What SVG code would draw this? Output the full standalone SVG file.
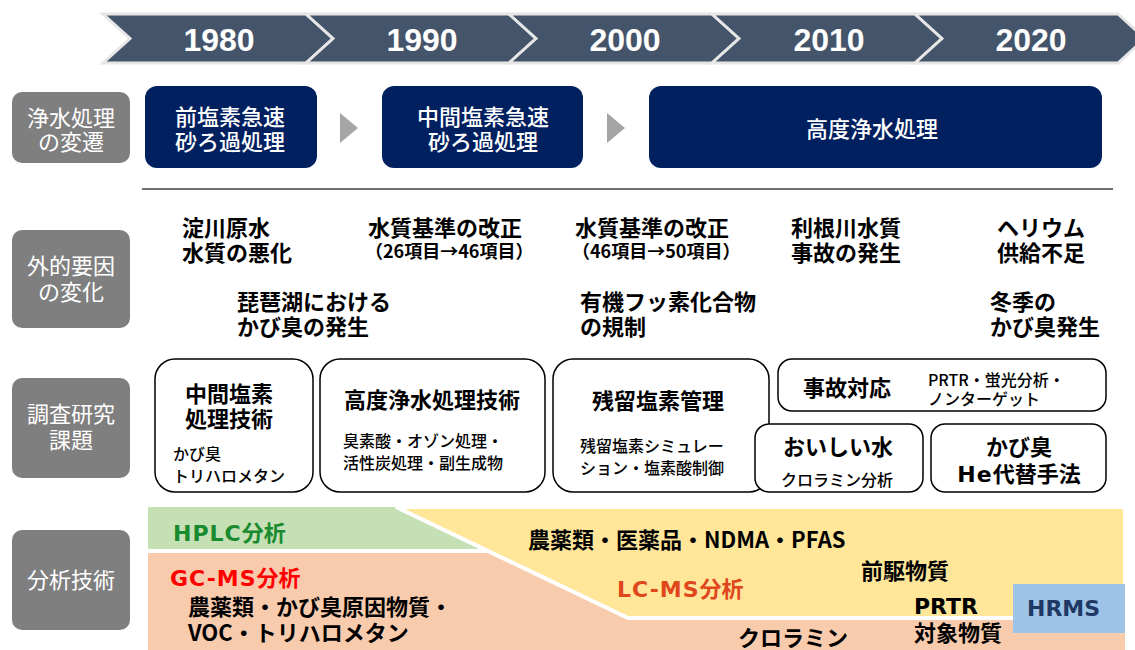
<svg xmlns="http://www.w3.org/2000/svg" width="1135" height="650" viewBox="0 0 1135 650">
<style>
.yr{font-family:"Liberation Sans",Arial,sans-serif;font-weight:bold;font-size:32px;fill:#fff;text-anchor:middle}
.jp{font-family:"Noto Sans CJK JP",sans-serif}
.lat{font-family:"DejaVu Sans","Noto Sans CJK JP",sans-serif;letter-spacing:1px}
.lab{font-size:22px;fill:#fff;text-anchor:middle}
.nav{font-size:22px;font-weight:500;fill:#fff;text-anchor:middle}
.t{font-size:22px;font-weight:bold;fill:#000}
.s{font-size:18px;font-weight:bold;fill:#000}
.sm{font-size:16px;font-weight:500;fill:#000}
.m{text-anchor:middle}
.chev{fill:#44546a;stroke:#e7e6e6;stroke-width:3;stroke-linejoin:miter}
.gl{fill:#7f7f7f}
.nb{fill:#002060}
.tri{fill:#a5a5a5}
.wb{fill:#fff;stroke:#000;stroke-width:1.5}
</style>
<g id="timeline">
<polygon class="chev" points="103,14 306,14 333,38.5 306,63 103,63 130,38.5"/>
<polygon class="chev" points="306,14 509,14 536,38.5 509,63 306,63 333,38.5"/>
<polygon class="chev" points="509,14 712,14 739,38.5 712,63 509,63 536,38.5"/>
<polygon class="chev" points="712,14 915,14 942,38.5 915,63 712,63 739,38.5"/>
<polygon class="chev" points="915,14 1118,14 1145,38.5 1118,63 915,63 942,38.5"/>
<text class="yr" x="219" y="51">1980</text>
<text class="yr" x="422" y="51">1990</text>
<text class="yr" x="625" y="51">2000</text>
<text class="yr" x="829" y="51">2010</text>
<text class="yr" x="1031" y="51">2020</text>
</g>
<g id="label-hensen"><rect class="gl" x="12" y="92" width="118" height="71" rx="10"/><text class="jp lab" x="71" y="126">浄水処理<tspan x="71" dy="24">の変遷</tspan></text></g>
<g id="label-gaiteki"><rect class="gl" x="12" y="230" width="118" height="98" rx="10"/><text class="jp lab" x="71" y="274">外的要因<tspan x="71" dy="26">の変化</tspan></text></g>
<g id="label-chosa"><rect class="gl" x="12" y="378" width="118" height="100" rx="10"/><text class="jp lab" x="71" y="422">調査研究<tspan x="71" dy="26">課題</tspan></text></g>
<g id="label-bunseki"><rect class="gl" x="12" y="530" width="118" height="100" rx="10"/><text class="jp lab" x="71" y="588">分析技術</text></g>

<g id="proc1"><rect class="nb" x="145" y="86" width="172" height="82" rx="12"/><text class="jp nav" x="230" y="125">前塩素急速<tspan x="230" dy="25">砂ろ過処理</tspan></text></g>
<g id="proc2"><rect class="nb" x="382" y="86" width="201" height="82" rx="12"/><text class="jp nav" x="483" y="125">中間塩素急速<tspan x="483" dy="25">砂ろ過処理</tspan></text></g>
<g id="proc3"><rect class="nb" x="649" y="86" width="453" height="82" rx="12"/><text class="jp nav" x="872" y="137">高度浄水処理</text></g>
<g id="connectors">
<polygon class="tri" points="340,113 358,128 340,143"/>
<polygon class="tri" points="607,113 625,128 607,143"/>
<line x1="142" y1="189" x2="1113" y2="189" stroke="#404040" stroke-width="1.5"/>
</g>

<g id="ext1"><text class="jp t" x="182" y="236">淀川原水<tspan x="182" dy="25">水質の悪化</tspan></text></g>
<g id="ext2"><text class="jp t" x="368" y="236">水質基準の改正<tspan class="s" x="365" dy="22">（26項目→46項目）</tspan></text></g>
<g id="ext3"><text class="jp t" x="575" y="236">水質基準の改正<tspan class="s" x="572" dy="22">（46項目→50項目）</tspan></text></g>
<g id="ext4"><text class="jp t" x="791" y="236">利根川水質<tspan x="791" dy="25">事故の発生</tspan></text></g>
<g id="ext5"><text class="jp t" x="997" y="236">ヘリウム<tspan x="997" dy="25">供給不足</tspan></text></g>
<g id="ext6"><text class="jp t" x="237" y="310">琵琶湖における<tspan x="237" dy="25">かび臭の発生</tspan></text></g>
<g id="ext7"><text class="jp t" x="580" y="310">有機フッ素化合物<tspan x="580" dy="25">の規制</tspan></text></g>
<g id="ext8"><text class="jp t" x="990" y="310">冬季の<tspan x="990" dy="25">かび臭発生</tspan></text></g>

<g id="res1"><rect class="wb" x="155" y="359" width="158" height="133" rx="20"/><text class="jp t m" x="229" y="402">中間塩素<tspan x="229" dy="25">処理技術</tspan></text><text class="jp sm" x="173" y="460">かび臭<tspan x="173" dy="22">トリハロメタン</tspan></text></g>
<g id="res2"><rect class="wb" x="320" y="359" width="225" height="133" rx="20"/><text class="jp t m" x="432" y="408">高度浄水処理技術</text><text class="jp sm" x="343" y="447">臭素酸・オゾン処理・<tspan x="343" dy="22">活性炭処理・副生成物</tspan></text></g>
<g id="res3"><rect class="wb" x="553" y="359" width="216" height="133" rx="20"/><text class="jp t m" x="658" y="409">残留塩素管理</text><text class="jp sm" x="580" y="452">残留塩素シミュレー<tspan x="580" dy="22">ション・塩素酸制御</tspan></text></g>
<g id="res4"><rect class="wb" x="778" y="359" width="328" height="52" rx="14"/><text class="jp t" x="803" y="396">事故対応</text><text class="jp sm" x="928" y="386">PRTR・蛍光分析・<tspan x="928" dy="19">ノンターゲット</tspan></text></g>
<g id="res5"><rect class="wb" x="755" y="424" width="168" height="68" rx="14"/><text class="jp t" x="783" y="455">おいしい水</text><text class="jp sm" x="781" y="486">クロラミン分析</text></g>
<g id="res6"><rect class="wb" x="931" y="424" width="175" height="68" rx="14"/><text class="jp t m" x="1019" y="455">かび臭<tspan x="1019" dy="27"><tspan class="lat">He</tspan>代替手法</tspan></text></g>

<g id="analysis">
<rect x="148" y="553" width="977" height="97" fill="#f8cbad"/>
<polygon points="148,507 395,507 485,549 148,549" fill="#c5e0b4"/>
<polygon points="396,507 1125,507 1125,618 628,618" fill="#ffe699" stroke="#fff" stroke-width="4" stroke-linejoin="miter"/>
<rect x="1013" y="584" width="112" height="49" fill="#9dc3e6"/>
<text class="jp t" x="173" y="541" style="fill:#1a8a2e"><tspan class="lat">HPLC</tspan>分析</text>
<text class="jp t" x="170" y="586" style="fill:#ff0000"><tspan class="lat">GC-MS</tspan>分析</text>
<text class="jp t" x="188" y="615">農薬類・かび臭原因物質・<tspan x="188" dy="26">VOC・トリハロメタン</tspan></text>
<text class="jp t" x="528" y="548">農薬類・医薬品・NDMA・PFAS</text>
<text class="jp t" x="617" y="597" style="fill:#e0461c"><tspan class="lat">LC-MS</tspan>分析</text>
<text class="jp t" x="861" y="579">前駆物質</text>
<text class="jp t" x="914" y="614"><tspan class="lat" style="letter-spacing:0">PRTR</tspan><tspan x="914" dy="27">対象物質</tspan></text>
<text class="jp t" x="738" y="646">クロラミン</text>
<text class="jp t" x="1027" y="616" style="fill:#1f3864"><tspan class="lat" style="letter-spacing:0">HRMS</tspan></text>
</g>
</svg>
